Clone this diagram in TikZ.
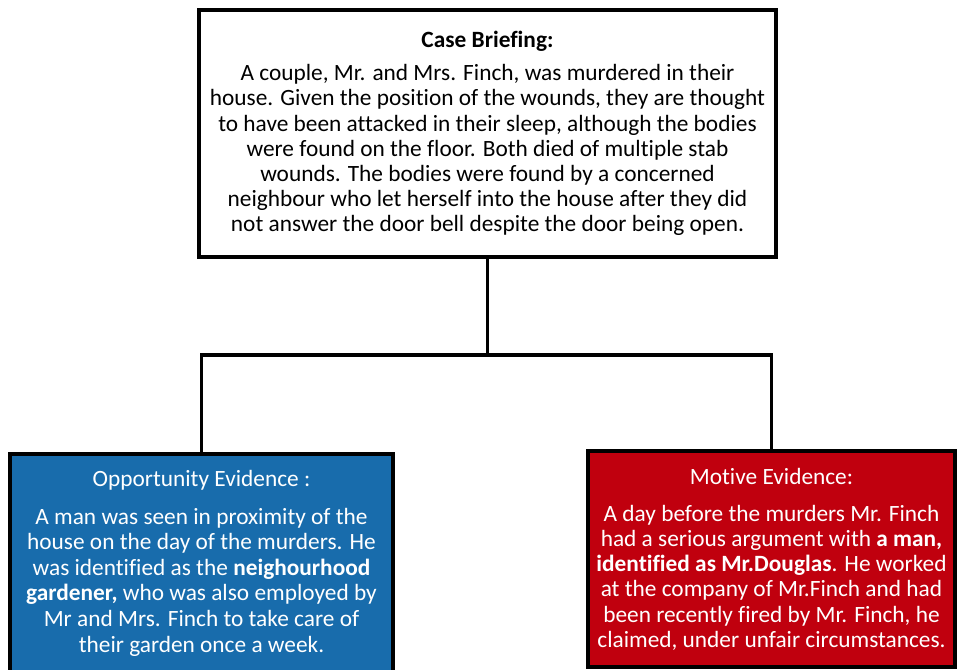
\documentclass[tikz,border=0pt]{standalone}
\usepackage{fontspec}
\setmainfont{Carlito}[Ligatures=NoCommon]
\usetikzlibrary{positioning,calc}
\definecolor{oppblue}{RGB}{24,108,172}
\definecolor{motred}{RGB}{192,0,14}

\begin{document}
\begin{tikzpicture}[
  x=0.75pt, y=-0.75pt,
  box/.style={draw, rectangle, line width=3pt, align=center, inner sep=0pt,
    font=\fontsize{17.5}{18.9}\selectfont},
  link/.style={draw, line width=2.3pt}
]
  \useasboundingbox (0,0) rectangle (957,670);

  \node[box, minimum width=432.75pt, minimum height=185.25pt, fill=white] (brief) at (487.5,133.5)
    {\textbf{Case Briefing:}\\[6pt]
     A couple, Mr. and Mrs. Finch, was murdered in their\\
     house. Given the position of the wounds, they are thought\\
     to have been attacked in their sleep, although the bodies\\
     were found on the floor. Both died of multiple stab\\
     wounds. The bodies were found by a concerned\\
     neighbour who let herself into the house after they did\\
     not answer the door bell despite the door being open.};

  \node[box, minimum width=287.25pt, minimum height=190pt, fill=oppblue, text=white,
    anchor=north] (opp) at (201.5,452) {};
  \node[align=center, text=white, font=\fontsize{17.5}{19.2}\selectfont, inner sep=0pt,
    anchor=north] (opptext) at ($(opp.north)+(0,18)$)
    {Opportunity Evidence :\\[9pt]
     A man was seen in proximity of the\\
     house on the day of the murders. He\\
     was identified as the \textbf{neighourhood}\\
     \textbf{gardener,} who was also employed by\\
     Mr and Mrs. Finch to take care of\\
     their garden once a week.};

  \node[box, minimum width=275.25pt, minimum height=162pt, fill=motred, text=white] (mot) at (771.5,559)
    {Motive Evidence:\\[9pt]
     A day before the murders Mr. Finch\\
     had a serious argument with \textbf{a man,}\\
     \textbf{identified as Mr.Douglas}. He worked\\
     at the company of Mr.Finch and had\\
     been recently fired by Mr. Finch, he\\
     claimed, under unfair circumstances.};

  \coordinate (fork) at ($(brief.south)+(0,96)$);
  \draw[link] (brief.south) -- (fork);
  \draw[link] (fork) -| (opp.north);
  \draw[link] (fork) -| (mot.north);
\end{tikzpicture}
\end{document}
